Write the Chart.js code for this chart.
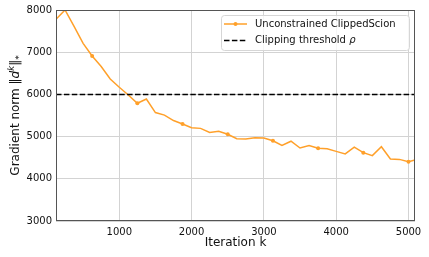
<!DOCTYPE html>
<html>
<head>
<meta charset="utf-8">
<script src="https://cdn.jsdelivr.net/npm/chart.js@4.4.1/dist/chart.umd.min.js"></script>
<style>
  html, body { margin: 0; padding: 0; background: #fff; }
  #wrap { width: 429px; height: 257px; }
</style>
</head>
<body>
<div id="wrap"><canvas id="gradChart" width="429" height="257"></canvas></div>
<script>
// ----------------------------
// DATA
// ----------------------------
const iterations = [125, 250, 375, 500, 625, 750, 875, 1000, 1125, 1250,
  1375, 1500, 1625, 1750, 1875, 2000, 2125, 2250, 2375, 2500,
  2625, 2750, 2875, 3000, 3125, 3250, 3375, 3500, 3625, 3750,
  3875, 4000, 4125, 4250, 4375, 4500, 4625, 4750, 4875, 5000, 5090];
const gradNorm = [7780, 8000, 7610, 7210, 6910, 6660, 6365, 6170, 5985, 5790,
  5890, 5570, 5510, 5380, 5300, 5210, 5195, 5100, 5125, 5055,
  4950, 4945, 4975, 4965, 4900, 4790, 4890, 4730, 4790, 4725,
  4710, 4650, 4590, 4750, 4620, 4550, 4760, 4470, 4460, 4405, 4445];
const markedIterations = [625, 1250, 1875, 2500, 3125, 3750, 4375, 5000];
const threshold = 6000;
const xTicks = [1000, 2000, 3000, 4000, 5000];
const yTicks = [3000, 4000, 5000, 6000, 7000, 8000];

const ORANGE = "#ffa02a";
const FONT = "DejaVu Sans";

// ----------------------------
// PLUGINS (frame, titles, legend)
// ----------------------------
const decorations = {
  id: "decorations",
  afterDraw(chart) {
    const { ctx, chartArea: a } = chart;
    ctx.save();

    // axes frame
    ctx.strokeStyle = "#555";
    ctx.lineWidth = 1;
    ctx.strokeRect(a.left + 0.5, a.top + 0.5, a.right - a.left - 1, a.bottom - a.top - 1);

    // x title
    ctx.fillStyle = "#111";
    ctx.font = `12px "${FONT}"`;
    ctx.textAlign = "center";
    ctx.textBaseline = "middle";
    ctx.fillText("Iteration k", (a.left + a.right) / 2, 243);

    // y title with sup/sub
    ctx.translate(16, (a.top + a.bottom) / 2);
    ctx.rotate(-Math.PI / 2);
    const parts = [
      { t: "Gradient norm \u2016", f: `12px "${FONT}"`, dy: 0 },
      { t: "d", f: `italic 12px "${FONT}"`, dy: 0 },
      { t: "k", f: `italic 8.5px "${FONT}"`, dy: -4.5 },
      { t: "\u2016", f: `12px "${FONT}"`, dy: 0 },
      { t: "*", f: `9px "${FONT}"`, dy: 3.5 }
    ];
    let total = 0;
    parts.forEach(p => { ctx.font = p.f; p.w = ctx.measureText(p.t).width; total += p.w; });
    let x = -total / 2;
    ctx.textAlign = "left";
    parts.forEach(p => {
      ctx.font = p.f;
      ctx.fillText(p.t, x, p.dy);
      x += p.w;
    });
    ctx.restore();

    // legend
    ctx.save();
    const lx = 221, ly = 15, lw = 188, lh = 35;
    ctx.beginPath();
    ctx.roundRect(lx + 0.5, ly + 0.5, lw, lh, 3);
    ctx.fillStyle = "rgba(255,255,255,0.8)";
    ctx.fill();
    ctx.strokeStyle = "#d6d6d6";
    ctx.lineWidth = 1;
    ctx.stroke();

    const r1 = 24, r2 = 40.5;
    ctx.strokeStyle = ORANGE;
    ctx.lineWidth = 1.5;
    ctx.beginPath();
    ctx.moveTo(224, r1); ctx.lineTo(247, r1);
    ctx.stroke();
    ctx.fillStyle = ORANGE;
    ctx.beginPath();
    ctx.arc(235.5, r1, 2, 0, Math.PI * 2);
    ctx.fill();

    ctx.strokeStyle = "#000";
    ctx.setLineDash([5.5, 2.4]);
    ctx.beginPath();
    ctx.moveTo(224, r2); ctx.lineTo(247, r2);
    ctx.stroke();
    ctx.setLineDash([]);

    ctx.fillStyle = "#111";
    ctx.textAlign = "left";
    ctx.textBaseline = "middle";
    ctx.font = `10px "${FONT}"`;
    ctx.fillText("Unconstrained ClippedScion", 255, r1);
    const lbl = "Clipping threshold ";
    ctx.fillText(lbl, 255, r2);
    const w = ctx.measureText(lbl).width;
    ctx.font = `italic 10px "${FONT}"`;
    ctx.fillText("\u03c1", 255 + w, r2);
    ctx.restore();
  }
};

// ----------------------------
// CHART
// ----------------------------
const curve = iterations.map((k, i) => ({ x: k, y: gradNorm[i] }));
const radii = iterations.map(k => markedIterations.includes(k) ? 2 : 0);

new Chart(document.getElementById("gradChart"), {
  type: "line",
  data: {
    datasets: [
      {
        label: "Unconstrained ClippedScion",
        data: curve,
        borderColor: ORANGE,
        backgroundColor: ORANGE,
        borderWidth: 1.5,
        pointRadius: radii,
        pointBorderWidth: 0,
        tension: 0,
        order: 1
      },
      {
        label: "Clipping threshold \u03c1",
        data: [{ x: iterations[0], y: threshold }, { x: iterations[iterations.length - 1], y: threshold }],
        borderColor: "#000",
        borderWidth: 1.5,
        borderDash: [5.5, 2.4],
        pointRadius: 0,
        order: 0
      }
    ]
  },
  options: {
    responsive: false,
    animation: false,
    layout: { padding: { top: 10, right: 14, left: 0, bottom: 0 } },
    plugins: {
      legend: { display: false },
      tooltip: { enabled: false }
    },
    scales: {
      x: {
        type: "linear",
        min: iterations[0],
        max: iterations[iterations.length - 1],
        afterBuildTicks: s => { s.ticks = xTicks.map(v => ({ value: v })); },
        afterFit: s => { s.height = 36; },
        grid: { color: "#d3d3d3", drawTicks: false },
        border: { display: false },
        ticks: { color: "#111", font: { family: FONT, size: 10 }, padding: 5, maxRotation: 0,
          callback: v => String(v) }
      },
      y: {
        min: 3000,
        max: 8000,
        afterBuildTicks: s => { s.ticks = yTicks.map(v => ({ value: v })); },
        afterFit: s => { s.width = 56; },
        grid: { color: "#d3d3d3", drawTicks: false },
        border: { display: false },
        ticks: { color: "#111", font: { family: FONT, size: 10 }, padding: 4,
          callback: v => String(v) }
      }
    }
  },
  plugins: [decorations]
});
</script>
</body>
</html>
